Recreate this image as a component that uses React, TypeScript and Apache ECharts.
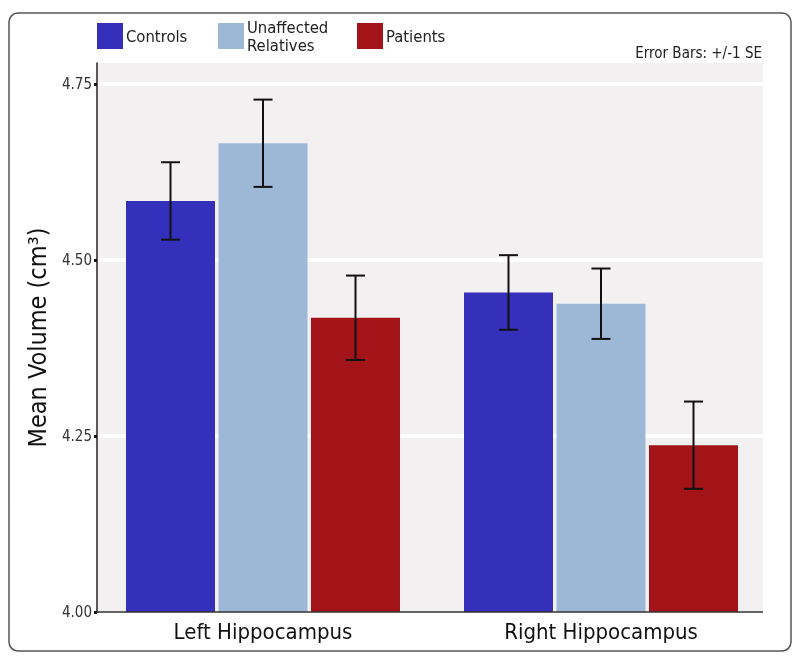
import React, { useEffect, useRef } from "react";
import * as echarts from "echarts";

const categories = ["Left Hippocampus", "Right Hippocampus"];
const seriesNames = ["Controls", "Unaffected Relatives", "Patients"];
const controlsMean = [4.584, 4.454];
const controlsSE = [0.055, 0.053];
const relativesMean = [4.666, 4.438];
const relativesSE = [0.062, 0.05];
const patientsMean = [4.418, 4.237];
const patientsSE = [0.06, 0.062];
const yTicks = [4.0, 4.25, 4.5, 4.75];

const colors = ["#3530bb", "#9db8d6", "#a21418"];
const means = [controlsMean, relativesMean, patientsMean];
const ses = [controlsSE, relativesSE, patientsSE];

const BAR_W = 89;
const BAR_GAP = 3.5;
const FONT = "'DejaVu Sans Condensed', 'Open Sans', sans-serif";

// plot panel (grey background) geometry
const PANEL_L = 97;
const PANEL_R = 763;
const PANEL_T = 63;
const PANEL_B = 612;

export default function App() {
  const ref = useRef<HTMLDivElement>(null);
  useEffect(() => {
    if (!ref.current) return;
    const chart = echarts.init(ref.current, null, { renderer: "svg" });
    const barSeries = seriesNames.map((name, i) => ({
      name,
      type: "bar",
      data: means[i],
      barWidth: BAR_W,
      barGap: ((BAR_GAP / BAR_W) * 100).toFixed(2) + "%",
      itemStyle: { color: colors[i] },
      z: 2,
    }));
    const errSeries = seriesNames.map((name, i) => ({
      name: name + " SE",
      type: "custom",
      z: 5,
      data: means[i].map((m, k) => [k, m - ses[i][k], m + ses[i][k]]),
      renderItem: (params: any, api: any) => {
        const cat = api.value(0);
        const lo = api.coord([cat, api.value(1)]);
        const hi = api.coord([cat, api.value(2)]);
        const x = lo[0] + (i - 1) * (BAR_W + BAR_GAP);
        const hw = 9.5;
        const st = { stroke: "#111", lineWidth: 2 };
        return {
          type: "group",
          children: [
            { type: "line", shape: { x1: x, y1: lo[1], x2: x, y2: hi[1] }, style: st },
            { type: "line", shape: { x1: x - hw, y1: lo[1], x2: x + hw, y2: lo[1] }, style: st },
            { type: "line", shape: { x1: x - hw, y1: hi[1], x2: x + hw, y2: hi[1] }, style: st },
          ],
        };
      },
    }));
    const legendLefts = [97, 218, 357];
    const legendTops = [23, 18, 23];
    chart.setOption({
      animation: false,
      textStyle: { fontFamily: FONT },
      legend: seriesNames.map((name, i) => ({
        data: [{ name, icon: "rect" }],
        left: legendLefts[i],
        top: legendTops[i],
        padding: 0,
        itemWidth: 26,
        itemHeight: 26,
        selectedMode: false,
        formatter: (n: string) => n.replace(" ", "\n"),
        textStyle: { fontFamily: FONT, fontSize: 16.5, color: "#222", lineHeight: 18, padding: [0, 0, 0, -2] },
      })),
      grid: {
        left: 94,
        right: 30,
        top: PANEL_T,
        bottom: 663 - PANEL_B,
        show: false,
      },
      xAxis: {
        type: "category",
        data: categories,
        axisLine: { show: false },
        axisTick: { show: false },
        axisLabel: { fontSize: 22, color: "#111", margin: 8, fontFamily: FONT },
        splitLine: { show: false },
      },
      yAxis: {
        type: "value",
        min: 4.0,
        max: 4.78,
        interval: 0.25,
        offset: -3,
        name: "Mean Volume (cm³)",
        nameLocation: "middle",
        nameGap: 47,
        nameTextStyle: { fontSize: 25, color: "#111", fontFamily: FONT },
        axisLine: { show: true, lineStyle: { color: "#222", width: 1.5 } },
        axisTick: { show: true, length: 3, lineStyle: { color: "#111", width: 3 } },
        axisLabel: {
          fontSize: 15,
          color: "#333",
          margin: 5,
          showMaxLabel: false,
          fontFamily: FONT,
          formatter: (v: number) => (yTicks.includes(Math.round(v * 100) / 100) ? v.toFixed(2) : ""),
        },
        splitLine: {
          show: true,
          showMinLine: false,
          showMaxLine: false,
          lineStyle: { color: "#ffffff", width: 4 },
        },
      },
      graphic: [
        {
          type: "rect",
          z: -10,
          silent: true,
          shape: { x: PANEL_L, y: PANEL_T, width: PANEL_R - PANEL_L, height: PANEL_B - PANEL_T },
          style: { fill: "#f2f0f1" },
        },
        {
          type: "line",
          z: 10,
          silent: true,
          shape: { x1: PANEL_L, y1: PANEL_B, x2: PANEL_R, y2: PANEL_B },
          style: { stroke: "#333", lineWidth: 1.5 },
        },
        {
          type: "rect",
          shape: { x: 9, y: 13, width: 782, height: 638, r: 9 },
          style: { fill: "none", stroke: "#555", lineWidth: 1.5 },
          silent: true,
        },
        {
          type: "text",
          x: 762,
          y: 53,
          style: {
            text: "Error Bars: +/-1 SE",
            align: "right",
            verticalAlign: "middle",
            fontSize: 15,
            fontFamily: FONT,
            fill: "#222",
          },
        },
      ],
      series: [...barSeries, ...errSeries],
    });
    return () => chart.dispose();
  }, []);
  return <div ref={ref} style={{ position: "fixed", left: 0, top: 0, width: 800, height: 663 }} />;
}
